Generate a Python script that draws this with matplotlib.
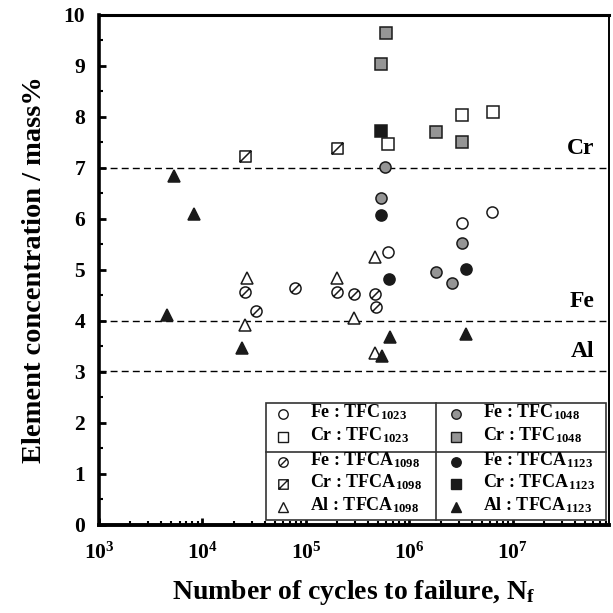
import numpy as np
import matplotlib
matplotlib.use("Agg")
import matplotlib.pyplot as plt
from matplotlib.path import Path
from matplotlib.ticker import FixedLocator, FixedFormatter, LogLocator, MultipleLocator, NullFormatter

plt.rcParams['font.family'] = ['Liberation Serif', 'DejaVu Serif']
plt.rcParams['font.weight'] = 'bold'
plt.rcParams['mathtext.fontset'] = 'custom'
plt.rcParams['mathtext.rm'] = 'Liberation Serif:bold'
plt.rcParams['mathtext.it'] = 'Liberation Serif:bold'
plt.rcParams['mathtext.bf'] = 'Liberation Serif:bold'

# ---- data ----
fe_tfc1023_x = [6.2e5, 3.2e6, 6.3e6]
fe_tfc1023_y = [5.35, 5.92, 6.14]
cr_tfc1023_x = [6.2e5, 3.2e6, 6.5e6]
cr_tfc1023_y = [7.47, 8.04, 8.10]

fe_tfc1048_x = [5.8e5, 5.3e5, 3.2e6, 1.8e6, 2.6e6]
fe_tfc1048_y = [7.02, 6.41, 5.53, 4.96, 4.74]
cr_tfc1048_x = [5.9e5, 5.3e5, 1.8e6, 3.2e6]
cr_tfc1048_y = [9.65, 9.04, 7.70, 7.50]

fe_tfca1098_x = [2.6e4, 3.3e4, 7.8e4, 2.0e5, 2.9e5, 4.7e5, 4.8e5]
fe_tfca1098_y = [4.57, 4.20, 4.65, 4.57, 4.53, 4.53, 4.27]
cr_tfca1098_x = [2.6e4, 2.0e5]
cr_tfca1098_y = [7.24, 7.39]
al_tfca1098_x = [2.7e4, 2.6e4, 2.0e5, 2.9e5, 4.7e5, 4.7e5]
al_tfca1098_y = [4.84, 3.92, 4.84, 4.06, 5.25, 3.37]

fe_tfca1123_x = [5.3e5, 6.3e5, 3.5e6]
fe_tfca1123_y = [6.08, 4.82, 5.02]
cr_tfca1123_x = [5.3e5]
cr_tfca1123_y = [7.72]
al_tfca1123_x = [5.3e3, 8.3e3, 4.5e3, 2.4e4, 6.5e5, 5.4e5, 3.5e6]
al_tfca1123_y = [6.84, 6.10, 4.12, 3.47, 3.69, 3.31, 3.75]

ref_levels = [7.0, 4.0, 3.02]
ref_names = ['Cr', 'Fe', 'Al']

xtick_vals = [1e3, 1e4, 1e5, 1e6, 1e7]
xtick_labels = [r'$10^{3}$', r'$10^{4}$', r'$10^{5}$', r'$10^{6}$', r'$10^{7}$']

# ---- custom markers ----
circ = Path.unit_circle()
slash_c = Path([[-0.72, -0.72], [0.72, 0.72]], [Path.MOVETO, Path.LINETO])
circ_slash = Path.make_compound_path(circ, slash_c)
sq = Path([[-1, -1], [1, -1], [1, 1], [-1, 1], [-1, -1]],
          [Path.MOVETO, Path.LINETO, Path.LINETO, Path.LINETO, Path.CLOSEPOLY])
slash_s = Path([[-1, -1], [1, 1]], [Path.MOVETO, Path.LINETO])
sq_slash = Path.make_compound_path(sq, slash_s)

grey = '#959595'
ec = '#1a1a1a'
styles = {
    'fe1023': dict(marker='o', mfc='white', mec=ec, ms=8),
    'cr1023': dict(marker='s', mfc='white', mec=ec, ms=8.5),
    'fe1048': dict(marker='o', mfc=grey, mec=ec, ms=8),
    'cr1048': dict(marker='s', mfc=grey, mec=ec, ms=8.5),
    'fe1098': dict(marker=circ_slash, mfc='white', mec=ec, ms=8),
    'cr1098': dict(marker=sq_slash, mfc='white', mec=ec, ms=8),
    'al1098': dict(marker='^', mfc='white', mec=ec, ms=9),
    'fe1123': dict(marker='o', mfc=ec, mec=ec, ms=8),
    'cr1123': dict(marker='s', mfc=ec, mec=ec, ms=8.5),
    'al1123': dict(marker='^', mfc=ec, mec=ec, ms=9),
}

fig = plt.figure(figsize=(6.13, 6.13), dpi=100)
ax = fig.add_axes([0.1615, 0.1436, 0.832, 0.832])
ax.set_xscale('log')
ax.set_xlim(1e3, 8.5e7)
ax.set_ylim(0, 10)

for lvl, name in zip(ref_levels, ref_names):
    ax.axhline(lvl, color='black', lw=1.0, ls=(0, (5, 3)), zorder=1)
    ax.text(0.972, lvl + 0.18, name, transform=ax.get_yaxis_transform(),
            ha='right', va='bottom', fontsize=17, fontweight='bold')

series = [
    (fe_tfc1023_x, fe_tfc1023_y, 'fe1023'),
    (cr_tfc1023_x, cr_tfc1023_y, 'cr1023'),
    (fe_tfc1048_x, fe_tfc1048_y, 'fe1048'),
    (cr_tfc1048_x, cr_tfc1048_y, 'cr1048'),
    (fe_tfca1098_x, fe_tfca1098_y, 'fe1098'),
    (cr_tfca1098_x, cr_tfca1098_y, 'cr1098'),
    (al_tfca1098_x, al_tfca1098_y, 'al1098'),
    (fe_tfca1123_x, fe_tfca1123_y, 'fe1123'),
    (cr_tfca1123_x, cr_tfca1123_y, 'cr1123'),
    (al_tfca1123_x, al_tfca1123_y, 'al1123'),
]
for xs, ys, key in series:
    ax.plot(xs, ys, ls='none', mew=1.1, zorder=3, **styles[key])

# ---- axes styling ----
ax.spines['left'].set_linewidth(2.6)
ax.spines['bottom'].set_linewidth(2.8)
ax.spines['top'].set_linewidth(2.2)
ax.spines['right'].set_linewidth(1.4)
ax.xaxis.set_major_locator(FixedLocator(xtick_vals))
ax.xaxis.set_major_formatter(FixedFormatter(xtick_labels))
ax.xaxis.set_minor_locator(LogLocator(base=10, subs=np.arange(2, 10)))
ax.xaxis.set_minor_formatter(NullFormatter())
ax.yaxis.set_major_locator(MultipleLocator(1))
ax.yaxis.set_minor_locator(MultipleLocator(0.5))
ax.tick_params(axis='both', which='major', direction='in', length=5, width=2,
               labelsize=15.5)
ax.tick_params(axis='both', which='minor', direction='in', length=3, width=1.5)
ax.tick_params(axis='x', which='major', pad=13)
ax.tick_params(axis='y', which='major', pad=10)
ax.tick_params(top=False, right=False, which='both')
for lab in ax.get_yticklabels():
    lab.set_fontweight('bold')

ax.set_ylabel('Element concentration / mass%', fontsize=20.5, fontweight='bold',
              labelpad=12)
ax.set_xlabel(r'Number of cycles to failure, N$_{\mathrm{f}}$', fontsize=20,
              fontweight='bold', labelpad=10)

# ---- legend (table-like box) ----
L, R, T, B = 0.327, 0.994, 0.239, 0.010
MID_X, MID_Y = 0.661, 0.143
lk = dict(transform=ax.transAxes, color='#333333', lw=1.2, zorder=5, clip_on=False)
ax.add_patch(plt.Rectangle((L, B), R - L, T - B, transform=ax.transAxes,
                           facecolor='white', edgecolor='#333333', lw=1.2, zorder=4))
ax.plot([MID_X, MID_X], [B, T], **lk)
ax.plot([L, R], [MID_Y, MID_Y], **lk)

rows_y = [0.218, 0.173, 0.124, 0.080, 0.035]
left_entries = [('fe1023', r'Fe : TFC$_{1023}$'), ('cr1023', r'Cr : TFC$_{1023}$'),
                ('fe1098', r'Fe : TFCA$_{1098}$'), ('cr1098', r'Cr : TFCA$_{1098}$'),
                ('al1098', r'Al : TFCA$_{1098}$')]
right_entries = [('fe1048', r'Fe : TFC$_{1048}$'), ('cr1048', r'Cr : TFC$_{1048}$'),
                 ('fe1123', r'Fe : TFCA$_{1123}$'), ('cr1123', r'Cr : TFCA$_{1123}$'),
                 ('al1123', r'Al : TFCA$_{1123}$')]
for (entries, mx, tx) in [(left_entries, 0.361, 0.414), (right_entries, 0.700, 0.753)]:
    for (key, label), yy in zip(entries, rows_y):
        st = dict(styles[key])
        st['ms'] = st['ms'] * 0.85
        ax.plot([mx], [yy], transform=ax.transAxes, ls='none', mew=1.0,
                zorder=6, clip_on=False, **st)
        ax.text(tx, yy + 0.004, label, transform=ax.transAxes, ha='left', va='center',
                fontsize=13, fontweight='bold', zorder=6)

fig.savefig('out.png', dpi=100)
